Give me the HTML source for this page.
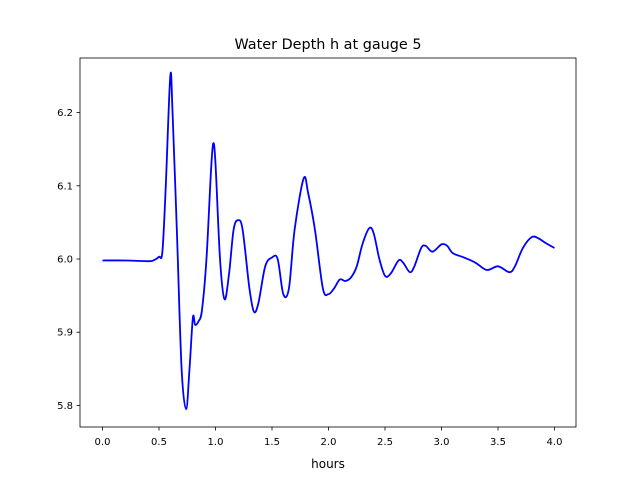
<!DOCTYPE html>
<html><head><meta charset="utf-8"><style>
body{margin:0;background:#fff}
svg text{font-family:"DejaVu Sans","Liberation Sans",sans-serif;fill:#000}
</style></head><body>
<svg width="640" height="480" xmlns="http://www.w3.org/2000/svg">
<rect width="640" height="480" fill="#fff"/>
<text x="328" y="49" font-size="14.4" text-anchor="middle">Water Depth h at gauge 5</text>
<g id="xt"></g>
<g id="yt"></g>
<path id="line" fill="none" stroke="#0000ff" stroke-width="1.8" stroke-linejoin="round"/>
<rect x="80" y="58" width="496" height="369" fill="none" stroke="#000" stroke-width="0.8"/>
<text x="328" y="468" font-size="12" text-anchor="middle">hours</text>
</svg>
<script>
const times=[0,0.2,0.4,0.45,0.5,0.53,0.56,0.6,0.62,0.66,0.7,0.74,0.77,0.8,0.82,0.85,0.88,0.92,0.96,0.98,1.0,1.04,1.08,1.12,1.16,1.2,1.24,1.3,1.34,1.38,1.44,1.5,1.55,1.6,1.65,1.7,1.78,1.82,1.88,1.95,2.0,2.05,2.1,2.15,2.2,2.25,2.3,2.36,2.4,2.45,2.5,2.55,2.62,2.66,2.72,2.76,2.82,2.86,2.92,3.0,3.05,3.1,3.2,3.3,3.4,3.5,3.6,3.65,3.72,3.8,3.86,3.92,4.0];
const depths=[5.998,5.998,5.997,5.998,6.003,6.01,6.1,6.25,6.2,6.03,5.85,5.795,5.85,5.92,5.91,5.915,5.93,6.0,6.12,6.158,6.13,6.0,5.945,5.98,6.04,6.053,6.04,5.96,5.928,5.94,5.99,6.002,6.0,5.952,5.96,6.04,6.11,6.09,6.04,5.96,5.952,5.96,5.972,5.97,5.975,5.99,6.02,6.042,6.035,6.0,5.977,5.98,5.998,5.995,5.982,5.99,6.015,6.018,6.01,6.02,6.018,6.008,6.002,5.995,5.985,5.99,5.982,5.99,6.015,6.03,6.028,6.022,6.015];
const xTicks=[0,0.5,1,1.5,2,2.5,3,3.5,4];
const xLabels=["0.0","0.5","1.0","1.5","2.0","2.5","3.0","3.5","4.0"];
const yTicks=[5.8,5.9,6.0,6.1,6.2];
const yLabels=["5.8","5.9","6.0","6.1","6.2"];
const X=t=>102.5+t*113;
const Y=h=>259-(h-6.0)*732;
const NS="http://www.w3.org/2000/svg";
const xt=document.getElementById('xt'),yt=document.getElementById('yt');
xTicks.forEach((v,i)=>{
 const l=document.createElementNS(NS,'line');
 l.setAttribute('x1',X(v));l.setAttribute('x2',X(v));l.setAttribute('y1',427);l.setAttribute('y2',430.5);l.setAttribute('stroke','#000');l.setAttribute('stroke-width','0.8');
 
 
 xt.appendChild(l);
 const t=document.createElementNS(NS,'text');
 t.setAttribute('x',X(v));t.setAttribute('y',445);t.setAttribute('font-size','10');t.setAttribute('text-anchor','middle');t.textContent=xLabels[i];
 
 
 xt.appendChild(t);
});
yTicks.forEach((v,i)=>{
 const l=document.createElementNS(NS,'line');
 l.setAttribute('x1',76.5);l.setAttribute('x2',80);l.setAttribute('y1',Y(v));l.setAttribute('y2',Y(v));l.setAttribute('stroke','#000');l.setAttribute('stroke-width','0.8');
 
 
 yt.appendChild(l);
 const t=document.createElementNS(NS,'text');
 t.setAttribute('x',73);t.setAttribute('y',Y(v)+3.5);t.setAttribute('font-size','10');t.setAttribute('text-anchor','end');t.textContent=yLabels[i];
 
 
 yt.appendChild(t);
});
const pts=times.map((t,i)=>[X(t),Y(depths[i])]);
let d='M'+pts[0][0]+','+pts[0][1];
for(let i=0;i<pts.length-1;i++){
 const p0=pts[Math.max(0,i-1)],p1=pts[i],p2=pts[i+1],p3=pts[Math.min(pts.length-1,i+2)];
 const c1=[p1[0]+(p2[0]-p0[0])/6,p1[1]+(p2[1]-p0[1])/6];
 const c2=[p2[0]-(p3[0]-p1[0])/6,p2[1]-(p3[1]-p1[1])/6];
 d+=' C'+c1[0]+','+c1[1]+' '+c2[0]+','+c2[1]+' '+p2[0]+','+p2[1];
}
document.getElementById('line').setAttribute('d',d);
</script>
</body></html>
